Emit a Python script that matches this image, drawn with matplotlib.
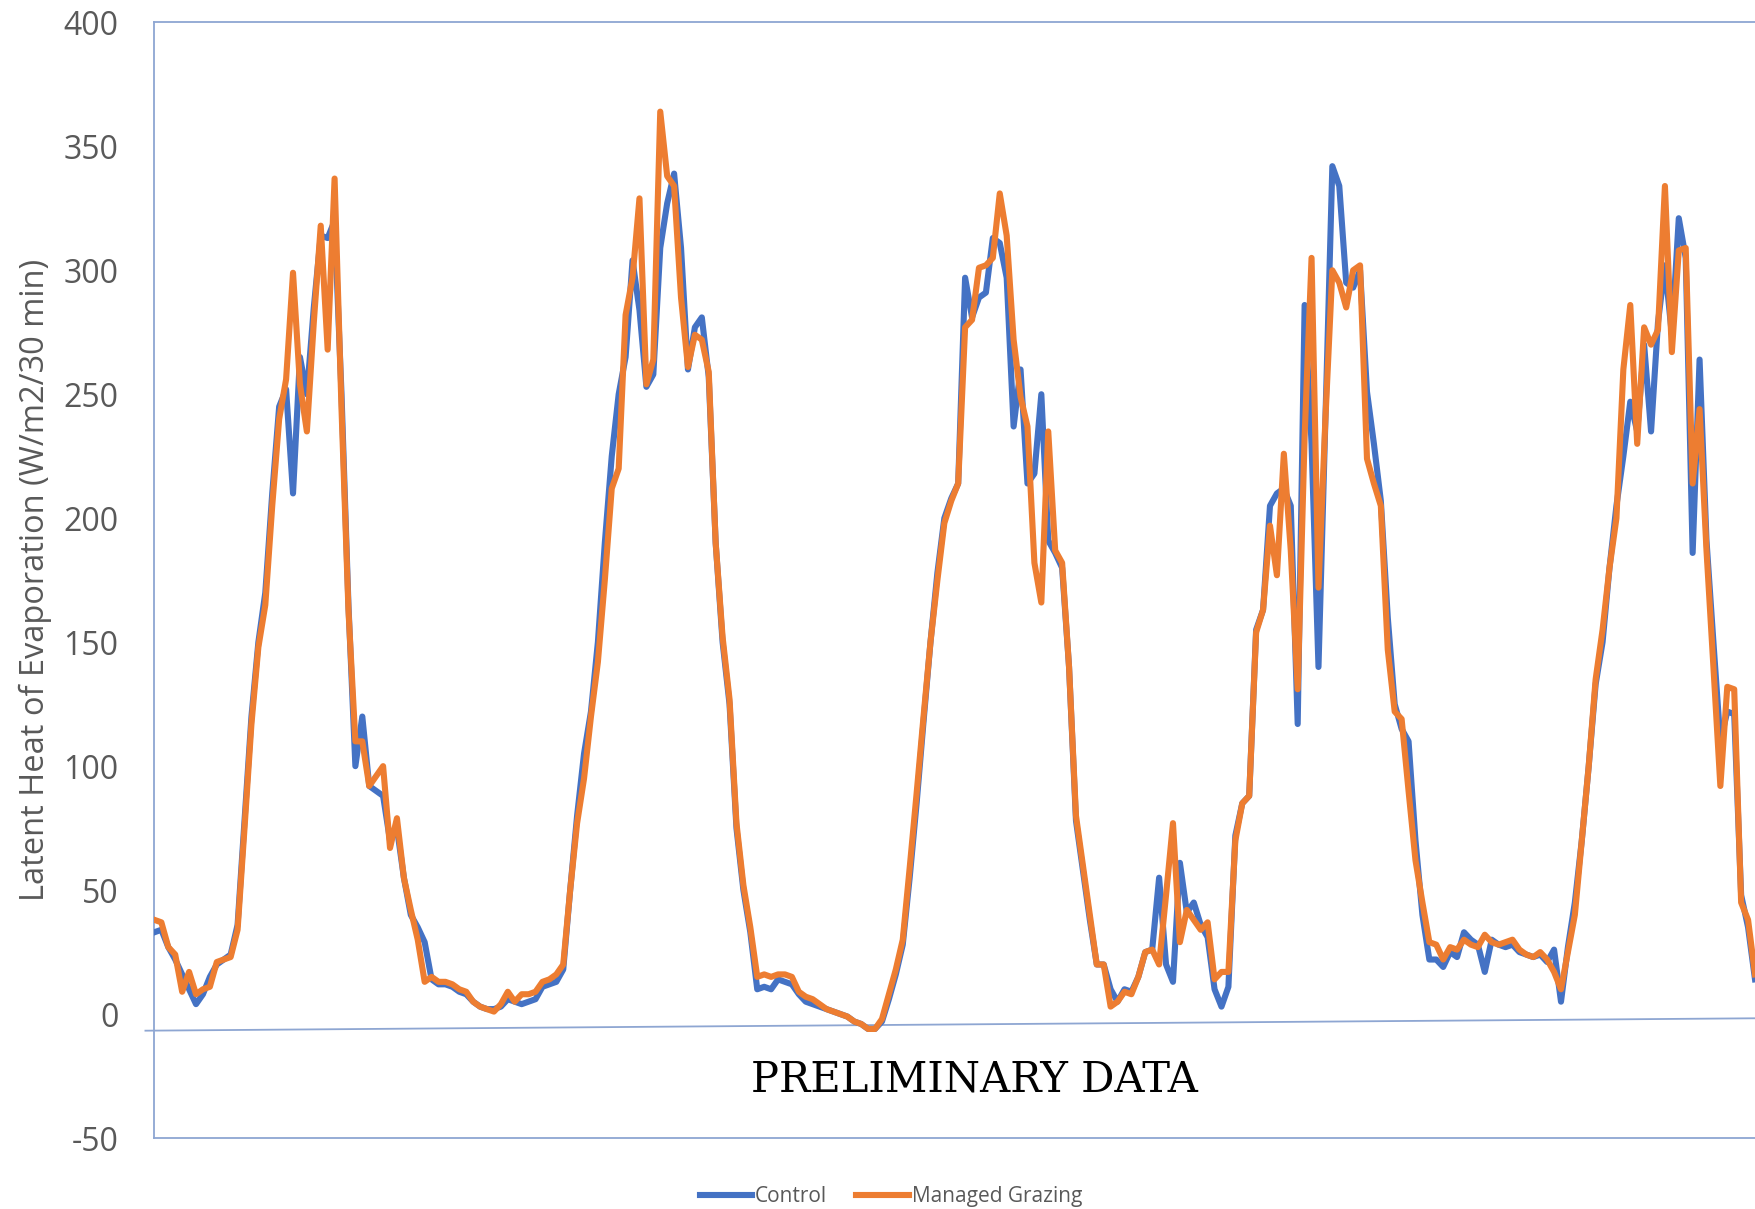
"""Latent heat of evaporation: control vs managed grazing (half-hourly)."""

import matplotlib

matplotlib.use("Agg")
import matplotlib.pyplot as plt

# half-hourly readings, W/m2 per 30 min
control = [
    33, 34, 27, 22, 16, 10, 4, 8, 15, 20, 22, 24, 36, 78, 120, 150, 170, 210, 245, 252,
    210, 265, 250, 285, 314, 313, 320, 250, 165, 100, 120, 92, 90, 88, 70, 75, 55, 40, 35, 29,
    14, 12, 12, 11, 9, 8, 5, 3, 2, 2, 3, 6, 5, 4, 5, 6, 11, 12, 13, 18,
    50, 80, 105, 122, 150, 190, 225, 250, 265, 304, 284, 253, 258, 309, 327, 339, 309, 260, 277, 281,
    257, 190, 150, 125, 75, 50, 33, 10, 11, 10, 14, 13, 12, 8, 5, 4, 3, 2, 1, 0,
    -1, -3, -4, -6, -6, -3, 6, 16, 28, 55, 85, 118, 150, 178, 200, 208, 214, 297, 281, 289,
    291, 313, 311, 297, 237, 260, 214, 218, 250, 191, 186, 180, 140, 78, 58, 38, 20, 20, 10, 5,
    10, 9, 15, 25, 26, 55, 20, 13, 61, 41, 45, 36, 31, 10, 3, 11, 72, 85, 88, 155,
    163, 205, 210, 212, 205, 117, 286, 230, 140, 240, 342, 334, 295, 293, 300, 251, 230, 207, 160, 125,
    115, 110, 70, 40, 22, 22, 19, 25, 23, 33, 30, 28, 17, 30, 28, 27, 28, 25, 24, 23,
    24, 21, 26, 5, 27, 45, 70, 100, 133, 150, 180, 205, 225, 247, 235, 270, 235, 279, 302, 274,
    321, 305, 186, 264, 191, 150, 110, 122, 121, 48, 35, 14,
]
grazing = [
    38, 37, 27, 24, 9, 17, 8, 10, 11, 21, 22, 23, 34, 75, 117, 148, 165, 205, 240, 256,
    299, 254, 235, 279, 318, 268, 337, 244, 163, 110, 110, 92, 96, 100, 67, 79, 55, 42, 30, 13,
    15, 13, 13, 12, 10, 9, 5, 3, 2, 1, 4, 9, 5, 8, 8, 9, 13, 14, 16, 20,
    50, 77, 95, 120, 142, 175, 212, 220, 282, 297, 329, 254, 264, 364, 338, 334, 289, 261, 274, 272,
    259, 190, 152, 127, 77, 52, 35, 15, 16, 15, 16, 16, 15, 9, 7, 6, 4, 2, 1, 0,
    -1, -3, -4, -6, -6, -2, 8, 18, 30, 59, 89, 120, 150, 175, 198, 207, 214, 277, 280, 301,
    302, 305, 331, 314, 272, 249, 237, 182, 166, 235, 187, 182, 140, 80, 60, 40, 20, 20, 3, 5,
    9, 8, 15, 25, 26, 20, 48, 77, 29, 42, 38, 34, 37, 14, 17, 17, 70, 85, 88, 154,
    163, 197, 177, 226, 187, 131, 233, 305, 172, 240, 300, 295, 285, 300, 302, 224, 214, 205, 147, 122,
    119, 90, 62, 45, 29, 28, 22, 27, 26, 30, 28, 27, 32, 29, 28, 29, 30, 26, 24, 23,
    25, 22, 17, 10, 25, 40, 70, 100, 135, 155, 180, 200, 260, 286, 230, 277, 270, 276, 334, 267,
    308, 309, 214, 244, 187, 140, 92, 132, 131, 45, 38, 16,
]
steps = list(range(len(grazing)))

series_names = ["Control", "Managed Grazing"]
y_ticks = [-50, 0, 50, 100, 150, 200, 250, 300, 350, 400]
# the slightly tilted zero line seen in the source image
zero_line_x = [-1.3, 231]
zero_line_y = [-6.7, -1.7]

BLUE = "#4472C4"
ORANGE = "#ED7D31"
FRAME = "#8EA6D2"
GREY = "#595959"

plt.rcParams["font.family"] = ["Open Sans", "DejaVu Sans"]
plt.rcParams["axes.unicode_minus"] = False

fig = plt.figure(figsize=(17.55, 12.09), dpi=100)
ax = fig.add_axes([0.088, 0.0587, 0.912, 0.9228])

ax.plot(steps, control, color=BLUE, lw=4.4, solid_joinstyle="round", label=series_names[0], zorder=3)
ax.plot(steps, grazing, color=ORANGE, lw=4.4, solid_joinstyle="round", label=series_names[1], zorder=4)
ax.plot(zero_line_x, zero_line_y, color=FRAME, lw=1.3, clip_on=False, zorder=2)

ax.set_xlim(0, 231)
ax.set_ylim(-50, 400)
ax.set_yticks(y_ticks)
ax.set_xticks([])
ax.tick_params(axis="y", length=0, pad=26, labelsize=23, labelcolor=GREY)

for side in ("top", "left", "bottom"):
    ax.spines[side].set_color(FRAME)
    ax.spines[side].set_linewidth(1.3)
ax.spines["right"].set_visible(False)

ax.set_ylabel("Latent Heat of Evaporation (W/m2/30 min)", fontsize=23.5, color=GREY)
ax.yaxis.set_label_coords(-0.064, 0.5)

fig.text(0.555, 0.1067, "PRELIMINARY DATA", family="DejaVu Serif", fontsize=30,
         color="black", ha="center", va="center")

fig.legend(loc="center", bbox_to_anchor=(0.5077, 0.0105), ncol=2, frameon=False,
           fontsize=15, labelcolor=GREY, handlelength=2.5, handletextpad=0.15,
           columnspacing=1.4, borderpad=0)

fig.savefig("out.png", dpi=100)
plt.close(fig)
